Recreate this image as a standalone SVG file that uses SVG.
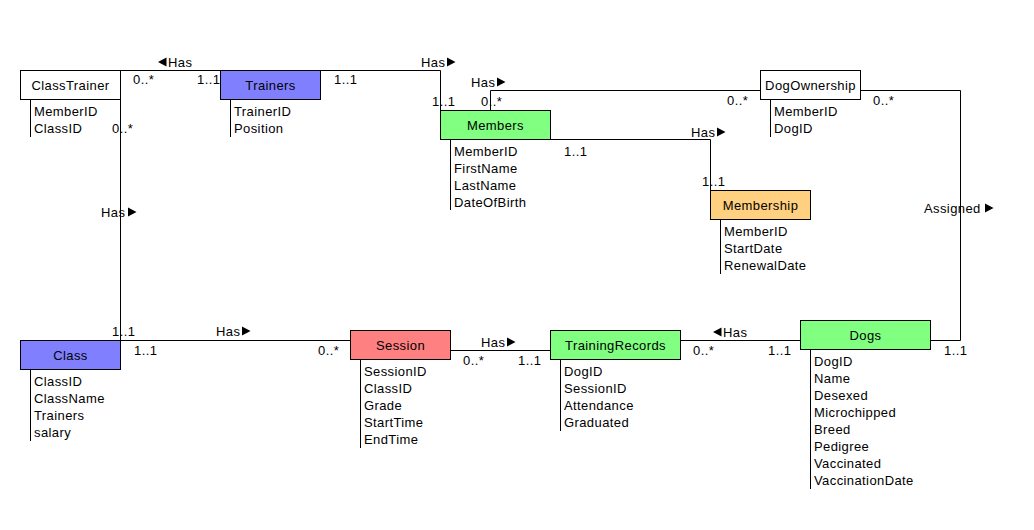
<svg xmlns="http://www.w3.org/2000/svg" width="1034" height="530" viewBox="0 0 1034 530">
  <defs>
    <style>
      text { font-family: "Liberation Sans", Arial, sans-serif; font-size: 13px; letter-spacing: 0.4px; fill: #000; }
      .hdr { text-anchor: middle; }
      .box { stroke: #000; stroke-width: 1; }
      .plain { fill: #fff; }
      .blue { fill: #8080ff; }
      .green { fill: #80ff80; }
      .red { fill: #ff8080; }
      .orange { fill: #ffd080; }
      .attr { stroke: #000; stroke-width: 1; fill: none; }
      .conn { stroke: #000; stroke-width: 1; fill: none; }
      .tri { fill: #000; }
    </style>
    <polygon id="triR" class="tri" points="0,-4.5 8.5,0 0,4.5"/>
    <polygon id="triL" class="tri" points="8.5,-4.5 0,0 8.5,4.5"/>
  </defs>

  <rect width="1034" height="530" fill="#fff"/>

  <!-- relationship lines -->
  <g id="connectors">
    <line class="conn" x1="120.5" y1="70.5" x2="220.5" y2="70.5"/>
    <polyline class="conn" points="320.5,70.5 440.5,70.5 440.5,110.5"/>
    <polyline class="conn" points="490.5,110.5 490.5,90.5 760.5,90.5"/>
    <polyline class="conn" points="860.5,90.5 960.5,90.5 960.5,340.5 930.5,340.5"/>
    <polyline class="conn" points="550.5,139.5 710.5,139.5 710.5,190.5"/>
    <line class="conn" x1="120.5" y1="99.5" x2="120.5" y2="340.5"/>
    <line class="conn" x1="120.5" y1="340.5" x2="350.5" y2="340.5"/>
    <line class="conn" x1="450.5" y1="350.5" x2="550.5" y2="350.5"/>
    <line class="conn" x1="680.5" y1="340.5" x2="800.5" y2="340.5"/>

    <!-- ClassTrainer - Trainers -->
    <use href="#triL" x="158" y="62"/>
    <text x="168" y="67">Has</text>
    <text x="133" y="84">0..*</text>
    <text x="197" y="84">1..1</text>

    <!-- Trainers - Members -->
    <text x="334" y="84">1..1</text>
    <text x="421" y="67">Has</text>
    <use href="#triR" x="447" y="62"/>
    <text x="432" y="106">1..1</text>

    <!-- Members - DogOwnership -->
    <text x="481" y="106">0..*</text>
    <text x="471" y="87">Has</text>
    <use href="#triR" x="497" y="82"/>
    <text x="727" y="105">0..*</text>

    <!-- DogOwnership - Dogs -->
    <text x="873" y="105">0..*</text>
    <text x="924" y="213">Assigned</text>
    <use href="#triR" x="985" y="208"/>
    <text x="944" y="355">1..1</text>

    <!-- Members - Membership -->
    <text x="691" y="137">Has</text>
    <use href="#triR" x="717" y="132"/>
    <text x="564" y="156">1..1</text>
    <text x="702" y="186">1..1</text>

    <!-- ClassTrainer - Class -->
    <text x="112" y="133">0..*</text>
    <text x="101" y="217">Has</text>
    <use href="#triR" x="128" y="212"/>
    <text x="112" y="336">1..1</text>

    <!-- Class - Session -->
    <text x="216" y="336">Has</text>
    <use href="#triR" x="242" y="331"/>
    <text x="134" y="355">1..1</text>
    <text x="318" y="355">0..*</text>

    <!-- Session - TrainingRecords -->
    <text x="481" y="347">Has</text>
    <use href="#triR" x="507" y="342"/>
    <text x="463" y="365">0..*</text>
    <text x="518" y="365">1..1</text>

    <!-- TrainingRecords - Dogs -->
    <use href="#triL" x="713" y="332"/>
    <text x="723" y="337">Has</text>
    <text x="693" y="355">0..*</text>
    <text x="768" y="355">1..1</text>
  </g>

  <g id="ClassTrainer">
    <rect class="box plain" x="20.5" y="70.5" width="100" height="29"/>
    <text class="hdr" x="70.5" y="90">ClassTrainer</text>
    <line class="attr" x1="30.5" y1="99.5" x2="30.5" y2="137"/>
    <text x="34" y="116">MemberID</text>
    <text x="34" y="133">ClassID</text>
  </g>

  <g id="Trainers">
    <rect class="box blue" x="220.5" y="70.5" width="100" height="29"/>
    <text class="hdr" x="270.5" y="90">Trainers</text>
    <line class="attr" x1="230.5" y1="99.5" x2="230.5" y2="137"/>
    <text x="234" y="116">TrainerID</text>
    <text x="234" y="133">Position</text>
  </g>

  <g id="DogOwnership">
    <rect class="box plain" x="760.5" y="70.5" width="100" height="29"/>
    <text class="hdr" x="810.5" y="90">DogOwnership</text>
    <line class="attr" x1="770.5" y1="99.5" x2="770.5" y2="137"/>
    <text x="774" y="116">MemberID</text>
    <text x="774" y="133">DogID</text>
  </g>

  <g id="Members">
    <rect class="box green" x="440.5" y="110.5" width="110" height="29"/>
    <text class="hdr" x="495.5" y="130">Members</text>
    <line class="attr" x1="450.5" y1="139.5" x2="450.5" y2="210"/>
    <text x="454" y="156">MemberID</text>
    <text x="454" y="173">FirstName</text>
    <text x="454" y="190">LastName</text>
    <text x="454" y="207">DateOfBirth</text>
  </g>

  <g id="Membership">
    <rect class="box orange" x="710.5" y="190.5" width="100" height="29"/>
    <text class="hdr" x="760.5" y="210">Membership</text>
    <line class="attr" x1="720.5" y1="219.5" x2="720.5" y2="274"/>
    <text x="724" y="236">MemberID</text>
    <text x="724" y="253">StartDate</text>
    <text x="724" y="270">RenewalDate</text>
  </g>

  <g id="Class">
    <rect class="box blue" x="20.5" y="340.5" width="100" height="29"/>
    <text class="hdr" x="70.5" y="360">Class</text>
    <line class="attr" x1="30.5" y1="369.5" x2="30.5" y2="441"/>
    <text x="34" y="386">ClassID</text>
    <text x="34" y="403">ClassName</text>
    <text x="34" y="420">Trainers</text>
    <text x="34" y="437">salary</text>
  </g>

  <g id="Session">
    <rect class="box red" x="350.5" y="330.5" width="100" height="29"/>
    <text class="hdr" x="400.5" y="350">Session</text>
    <line class="attr" x1="360.5" y1="359.5" x2="360.5" y2="448"/>
    <text x="364" y="376">SessionID</text>
    <text x="364" y="393">ClassID</text>
    <text x="364" y="410">Grade</text>
    <text x="364" y="427">StartTime</text>
    <text x="364" y="444">EndTime</text>
  </g>

  <g id="TrainingRecords">
    <rect class="box green" x="550.5" y="330.5" width="130" height="29"/>
    <text class="hdr" x="615.5" y="350">TrainingRecords</text>
    <line class="attr" x1="560.5" y1="359.5" x2="560.5" y2="431"/>
    <text x="564" y="376">DogID</text>
    <text x="564" y="393">SessionID</text>
    <text x="564" y="410">Attendance</text>
    <text x="564" y="427">Graduated</text>
  </g>

  <g id="Dogs">
    <rect class="box green" x="800.5" y="320.5" width="130" height="29"/>
    <text class="hdr" x="865.5" y="340">Dogs</text>
    <line class="attr" x1="810.5" y1="349.5" x2="810.5" y2="489"/>
    <text x="814" y="366">DogID</text>
    <text x="814" y="383">Name</text>
    <text x="814" y="400">Desexed</text>
    <text x="814" y="417">Microchipped</text>
    <text x="814" y="434">Breed</text>
    <text x="814" y="451">Pedigree</text>
    <text x="814" y="468">Vaccinated</text>
    <text x="814" y="485">VaccinationDate</text>
  </g>
</svg>
